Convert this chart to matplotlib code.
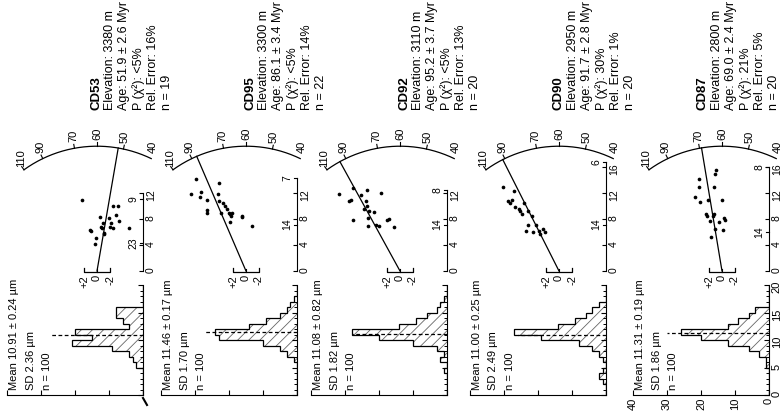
import numpy as np
import matplotlib
matplotlib.use("Agg")
import matplotlib.pyplot as plt
from matplotlib.lines import Line2D

plt.rcParams['font.family'] = ['Liberation Sans Narrow', 'Liberation Sans', 'DejaVu Sans']
plt.rcParams['hatch.linewidth'] = 0.6

# sample info
samples = ['CD53', 'CD95', 'CD92', 'CD90', 'CD87']
elevation = [3380, 3300, 3110, 2950, 2800]
age = [51.9, 86.1, 95.2, 91.7, 69.0]
age_err = [2.6, 3.4, 3.7, 2.8, 2.4]
p_chi2 = ['<5%', '<5%', '<5%', '30%', '21%']
rel_error = [16, 14, 13, 1, 5]
n_grains = [19, 22, 20, 20, 20]

# track length histograms (1 um bins, 0-20 um)
len_mean = [10.91, 11.46, 11.08, 11.00, 11.31]
len_mean_err = [0.24, 0.17, 0.82, 0.25, 0.19]
len_sd = [2.36, 1.70, 1.82, 2.49, 1.86]
n_tracks = [100, 100, 100, 100, 100]
hist_cd53 = [0, 0, 0, 0, 0, 2, 3, 4, 9, 21, 15, 20, 4, 6, 8, 8, 0, 0, 0, 0]
hist_cd95 = [0, 0, 0, 0, 0, 0, 1, 3, 5, 10, 23, 24, 14, 9, 5, 3, 2, 1, 0, 0]
hist_cd92 = [0, 0, 0, 0, 1, 0, 2, 1, 3, 10, 20, 28, 14, 9, 6, 3, 2, 1, 0, 0]
hist_cd90 = [0, 0, 1, 2, 1, 0, 1, 2, 4, 8, 19, 27, 14, 9, 6, 4, 2, 0, 0, 0]
hist_cd87 = [0, 0, 0, 0, 0, 1, 1, 3, 6, 12, 20, 26, 12, 9, 6, 4, 0, 0, 0, 0]
mean_line_top = [27, 27, 28, 26, 30]

# radial plot points: precision (1/sigma) and standardised estimate z
prec_cd53 = [11.0, 6.35, 6.2, 5.1, 4.1, 8.35, 6.7, 7.45, 5.8, 5.7, 8.2, 6.8, 7.35, 6.6, 10.0, 8.6, 10.0, 7.7, 6.6, 6.6]
z_cd53 = [2.25, 1.1, 0.9, 0.15, 0.25, -0.5, -0.6, -0.9, -1.0, -1.15, -1.9, -2.0, -2.2, -2.5, -2.4, -2.85, -3.25, -3.4, -4.9, -0.75]
prec_cd95 = [11.85, 14.2, 12.1, 11.45, 10.85, 9.45, 8.95, 11.85, 13.6, 10.7, 8.85, 10.5, 10.0, 9.6, 9.0, 8.7, 7.5, 8.5, 8.85, 8.35, 8.5, 6.85]
z_cd95 = [8.5, 7.65, 7.0, 7.05, 6.0, 6.0, 6.0, 4.3, 4.15, 4.15, 3.8, 3.55, 3.3, 2.9, 2.65, 2.5, 2.4, 2.3, 2.15, 0.65, 0.55, -0.85]
prec_cd92 = [11.8, 10.8, 10.9, 7.85, 12.7, 11.65, 10.75, 12.4, 10.0, 8.2, 6.9, 9.25, 9.1, 7.1, 6.9, 12.05, 7.85, 7.95, 6.8, 9.5]
z_cd92 = [9.4, 7.85, 7.5, 7.2, 7.2, 6.05, 5.3, 5.1, 5.1, 5.0, 5.0, 4.75, 4.0, 3.75, 3.25, 2.9, 1.95, 1.7, 1.0, 5.55]
prec_cd90 = [12.9, 10.7, 10.4, 10.9, 12.3, 9.9, 9.6, 9.3, 8.7, 10.4, 6.2, 7.1, 9.3, 8.5, 6.0, 7.1, 6.2, 5.7, 6.5, 6.0]
z_cd90 = [8.6, 7.9, 7.6, 7.3, 6.9, 6.7, 6.2, 6.0, 5.7, 5.4, 5.1, 4.8, 4.7, 4.1, 4.0, 3.5, 3.1, 2.9, 2.4, 2.2]
prec_cd87 = [14.1, 12.9, 11.4, 10.6, 8.7, 8.45, 10.85, 7.7, 5.2, 8.45, 12.9, 14.9, 6.45, 15.6, 7.6, 10.85, 6.3, 8.15, 7.85, 8.7]
z_cd87 = [3.57, 3.57, 4.1, 3.46, 2.49, 2.38, 2.1, 1.84, 1.68, 1.4, 1.24, 1.14, 1.14, 0.86, 0.43, -0.05, -0.2, -0.38, -0.49, 1.3]

# radial plot scales
arc_ages = [110, 90, 70, 60, 50, 40]
ref_age = 60
prec_ticks = [[0, 4, 8, 12], [0, 4, 8, 12], [0, 4, 8, 12], [0, 4, 8, 12, 16], [0, 4, 8, 12, 16]]
prec_max = [12, 14.3, 12.5, 16.7, 16]
relerr_labels = [['23', '9'], ['14', '7'], ['14', '8'], ['14', '6'], ['14', '8']]
relerr_pos = [[4.35, 11.1], [7.14, 14.3], [7.14, 12.5], [7.14, 16.7], [6.0, 16.0]]

hists = [hist_cd53, hist_cd95, hist_cd92, hist_cd90, hist_cd87]
precs = [prec_cd53, prec_cd95, prec_cd92, prec_cd90, prec_cd87]
zs = [z_cd53, z_cd95, z_cd92, z_cd90, z_cd87]

# layout in image pixels
W, H = 783, 412
origin_x = [97, 246, 400, 559, 722]
origin_y = 271
axis_x = [143, 297, 447, 606, 769]
text_x = [96, 250, 404, 559, 703]
line_step = 14.2
scale = 6.5          # px per radial unit
R = 19.2             # arc radius (radial units)
kfac = 1.19

fig = plt.figure(figsize=(W / 100, H / 100), dpi=100)


def frac_rect(x0, y0, x1, y1):
    return [x0 / W, 1 - y1 / H, (x1 - x0) / W, (y1 - y0) / H]


def ftext(x, y, s, **kw):
    fig.text(x / W, 1 - y / H, s, rotation=90, **kw)


def ang(t):
    return np.arctan(kfac * np.log(t / ref_age))


edges = np.arange(21)
for i in range(5):
    last = i == 4
    # ---- histogram ----
    hx1 = axis_x[i]
    hx0 = hx1 - 136
    ax = fig.add_axes(frac_rect(hx0, 285, hx1, 395))
    ax.patch.set_alpha(0)
    ax.stairs(hists[i], edges, orientation='horizontal', fill=True,
              facecolor='white', edgecolor='0.4', hatch='///', linewidth=0)
    ax.stairs(hists[i], edges, orientation='horizontal', color='k', linewidth=0.9)
    ax.plot([0, mean_line_top[i]], [len_mean[i], len_mean[i]], color='k',
            lw=0.9, dashes=(3, 2))
    ax.set_xlim(40, 0)
    ax.set_ylim(0, 20)
    ax.spines['top'].set_visible(False)
    ax.spines['left'].set_visible(False)
    ax.xaxis.set_ticks_position('bottom')
    ax.yaxis.set_ticks_position('right')
    ax.set_xticks([0, 10, 20, 30, 40])
    ax.set_yticks([0, 5, 10, 15, 20])
    ax.set_yticks(np.arange(0, 21), minor=True)
    ax.tick_params(direction='in', length=3.5, width=0.8, labelsize=8,
                   labelrotation=90, pad=2)
    ax.tick_params(which='minor', direction='in', length=2, width=0.7)
    if not last:
        ax.tick_params(labelbottom=False, labelright=False)
    else:
        ax.tick_params(labelbottom=True, labelright=True, labelleft=False)
    lines = ['Mean %.2f \u00b1 %.2f \u00b5m' % (len_mean[i], len_mean_err[i]),
             'SD %.2f \u00b5m' % len_sd[i], 'n = %d' % n_tracks[i]]
    for k, s in enumerate(lines):
        ftext(hx0 + 7 + 16.5 * k, 390, s, ha='center', va='bottom', fontsize=8)

    # ---- radial plot ----
    ox = origin_x[i]
    rx = fig.add_axes(frac_rect(ox - 140, origin_y - 150, axis_x[i], origin_y + 25))
    rx.patch.set_alpha(0)
    rx.set_xlim(140 / scale, -(axis_x[i] - ox) / scale)
    rx.set_ylim(-25 / scale, 150 / scale)
    for side in ['top', 'left', 'bottom']:
        rx.spines[side].set_visible(False)
    rx.spines['right'].set_bounds(0, prec_max[i])
    rx.set_xticks([])
    rx.yaxis.set_ticks_position('right')
    rx.set_yticks(prec_ticks[i])
    rx.tick_params(axis='y', direction='in', length=3, width=0.8, labelsize=7.5,
                   labelrotation=90, pad=2)
    zr = -(axis_x[i] - ox) / scale
    for lab, pp in zip(relerr_labels[i], relerr_pos[i]):
        rx.plot([zr, zr + 0.45], [pp, pp], color='k', lw=0.8, clip_on=False)
        rx.text(zr + 0.7, pp, lab, rotation=90, ha='right', va='center',
                fontsize=7.5)

    rx.scatter(zs[i], precs[i], s=7, color='k', linewidths=0, clip_on=False)

    # age arc
    phi = np.linspace(ang(arc_ages[0]), ang(arc_ages[-1]), 200)
    rx.plot(R * np.sin(phi), R * np.cos(phi), color='k', lw=0.9, clip_on=False)
    for t in arc_ages:
        a = ang(t)
        rx.plot([R * np.sin(a), (R + 0.6) * np.sin(a)],
                [R * np.cos(a), (R + 0.6) * np.cos(a)], color='k', lw=0.8)
        rx.text((R + 0.7) * np.sin(a), (R + 0.7) * np.cos(a) + 1.2, str(t),
                rotation=90, ha='center', va='center', fontsize=8)
    a = ang(age[i])
    rx.plot([0, R * np.sin(a)], [0, R * np.cos(a)], color='k', lw=0.9)

    # +2 / -2 bar
    rx.plot([2, 2, -2, -2], [0.4, -0.2, -0.2, 0.4], color='k', lw=0.9, clip_on=False)
    rx.plot([0, 0], [-0.2, 0.3], color='k', lw=0.8)
    for zz, lab in [(2, '+2'), (0, '0'), (-2, '-2')]:
        rx.text(zz, -0.6, lab, rotation=90, ha='center', va='top', fontsize=8)

    # ---- sample text ----
    tx = text_x[i]
    ftext(tx, 110, samples[i], ha='center', va='bottom', fontsize=9.5, fontweight='bold')
    info = ['Elevation: %d m' % elevation[i],
            'Age: %.1f \u00b1 %.1f Myr' % (age[i], age_err[i]),
            'P (\u03c7\u00b2): %s' % p_chi2[i],
            'Rel. Error: %d%%' % rel_error[i],
            'n = %d' % n_grains[i]]
    for k, s in enumerate(info):
        ftext(tx + line_step * (k + 1), 110, s, ha='center', va='bottom', fontsize=9)

# small stray stroke below the first histogram
fig.add_artist(Line2D([143 / W, 147 / W], [1 - 398 / H, 1 - 405 / H], color='k', lw=1.5))

fig.savefig('out.png', dpi=100)
